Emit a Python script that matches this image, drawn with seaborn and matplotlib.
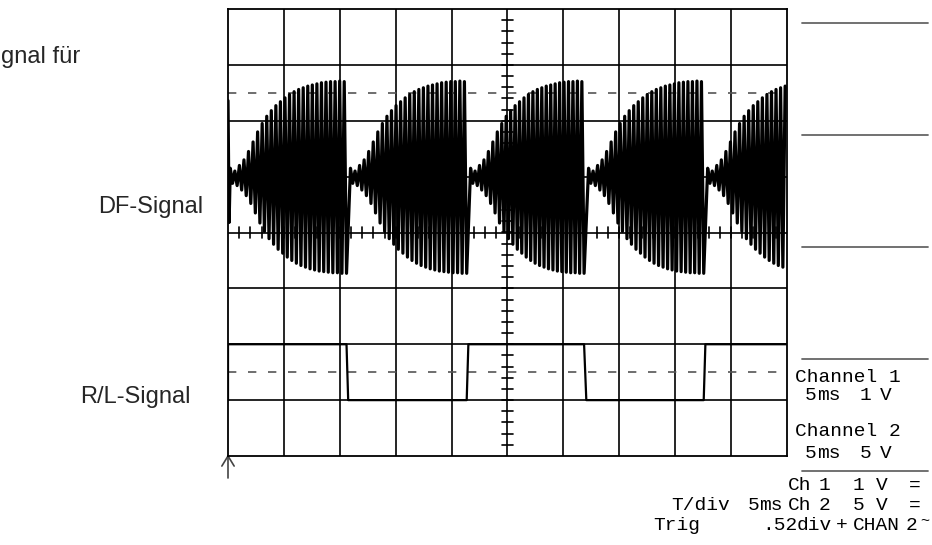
import numpy as np
import pandas as pd
import matplotlib
matplotlib.use("Agg")
import matplotlib.pyplot as plt
import seaborn as sns

# --- data (x in divisions, y in divisions) ---
# R/L square wave: switching instants and levels
sq_time = [0.0, 0.0, 2.12, 2.15, 4.27, 4.30, 6.37, 6.41, 8.51, 8.54, 10.0]
sq_level = [-3.0, -2.0, -2.0, -3.0, -3.0, -2.0, -2.0, -3.0, -3.0, -2.0, -2.0]

# DF signal: bursts between the R/L edges, centred one division above the middle
burst_start = [0.0, 2.15, 4.30, 6.41, 8.54]
burst_end = [2.12, 4.27, 6.37, 8.51, 10.66]
df_centre = 1.0
# peak height of each oscillation inside one burst (div)
peak_top = [0.15, 0.10, 0.20, 0.30, 0.45, 0.62, 0.80, 0.95, 1.08, 1.18, 1.27,
            1.34, 1.41, 1.47, 1.52, 1.56, 1.59, 1.62, 1.64, 1.66, 1.68, 1.69,
            1.70, 1.70, 1.71, 1.70]
peak_bottom = [0.12, 0.16, 0.24, 0.34, 0.48, 0.65, 0.83, 0.98, 1.11, 1.21, 1.30,
               1.37, 1.44, 1.50, 1.55, 1.59, 1.62, 1.65, 1.67, 1.69, 1.70, 1.71,
               1.72, 1.72, 1.73, 1.73]
# leftover stroke at the very left edge
lead_time = [0.0, 0.02]
lead_level = [2.36, 0.18]

# build DF trace
t, v = list(lead_time), list(lead_level)
for s, e in zip(burst_start, burst_end):
    n = len(peak_top)
    xs = np.linspace(s, e, 2 * n + 1)[1:]
    for i in range(n):
        if xs[2 * i] <= 10:
            t.append(xs[2 * i]); v.append(df_centre + peak_top[i])
        if xs[2 * i + 1] <= 10:
            t.append(xs[2 * i + 1]); v.append(df_centre - peak_bottom[i])
df_sig = pd.DataFrame({"t": t, "v": v})
sq_sig = pd.DataFrame({"t": sq_time, "v": sq_level})

# --- figure ---
sns.set_theme(style="white")
plt.rcParams["font.family"] = ["Liberation Sans", "DejaVu Sans"]
W, H = 932, 545
fig = plt.figure(figsize=(W / 100, H / 100), dpi=100)
ax = fig.add_axes([228 / W, 1 - 456 / H, (787 - 228) / W, (456 - 9) / H])
ax.set_xlim(0, 10)
ax.set_ylim(-4, 4)
ax.set_xticks([]); ax.set_yticks([])
for sp in ax.spines.values():
    sp.set_color("black"); sp.set_linewidth(1.3)

# graticule
for gx in range(1, 10):
    ax.axvline(gx, color="black", lw=1.2, zorder=1)
for gy in range(-3, 4):
    ax.axhline(gy, color="black", lw=1.2, zorder=1)
for m in np.arange(0.2, 10, 0.2):
    ax.plot([m, m], [-0.1, 0.1], color="black", lw=1.2, zorder=1)
for m in np.arange(-3.8, 4, 0.2):
    ax.plot([4.9, 5.1], [m, m], color="black", lw=1.2, zorder=1)
for dy in (2.5, -2.5):
    ax.axhline(dy, color="#555555", lw=1.2, ls=(0, (5, 7)), zorder=1)

sns.lineplot(data=df_sig, x="t", y="v", ax=ax, color="black", lw=2.3,
             estimator=None, sort=False, zorder=3)
sns.lineplot(data=sq_sig, x="t", y="v", ax=ax, color="black", lw=1.6,
             estimator=None, sort=False, zorder=3)
ax.set_xlabel(""); ax.set_ylabel("")

# trigger arrow below the grid
ax.plot([0, 0], [-4, -4.4], color="#444444", lw=1.2, clip_on=False)
ax.plot([-0.11, 0, 0.11], [-4.18, -4.0, -4.18], color="#444444", lw=1.2, clip_on=False)

# right-hand panel separators
for py in (23, 135, 247, 359, 471):
    fig.add_artist(plt.Line2D([802 / W, 928 / W], [1 - py / H, 1 - py / H],
                              color="#666666", lw=1.3))

mono = ["Liberation Mono", "DejaVu Sans Mono"]
def put(px, py, s, ha="left", size=14):
    fig.text(px / W, 1 - py / H, s, ha=ha, va="center", family=mono,
             fontsize=size, color="black")

put(795, 377, "Channel 1")
put(805, 396, "5"); put(817, 396, "ms"); put(860, 396, "1"); put(880, 396, "V")
put(795, 432, "Channel 2")
put(805, 453, "5"); put(817, 453, "ms"); put(860, 453, "5"); put(880, 453, "V")
put(788, 485, "Ch"); put(819, 485, "1"); put(853, 485, "1"); put(876, 485, "V"); put(909, 485, "=")
put(730, 505, "T/div", ha="right"); put(748, 505, "5"); put(759, 505, "ms")
put(788, 505, "Ch"); put(819, 505, "2"); put(853, 505, "5"); put(876, 505, "V"); put(909, 505, "=")
put(700, 525, "Trig", ha="right"); put(762, 525, ".52"); put(797, 525, "div")
put(836, 525, "+"); put(853, 525, "CHAN"); put(906, 525, "2"); put(920, 521, "~", size=11)

# labels on the left
fig.text(1 / W, 1 - 57 / H, "gnal für", ha="left", va="center", fontsize=17)
fig.text(98 / W, 1 - 207 / H, "DF-Signal", ha="left", va="center", fontsize=17)
fig.text(80 / W, 1 - 397 / H, "R/L-Signal", ha="left", va="center", fontsize=17)

fig.savefig("out.png", dpi=100)
